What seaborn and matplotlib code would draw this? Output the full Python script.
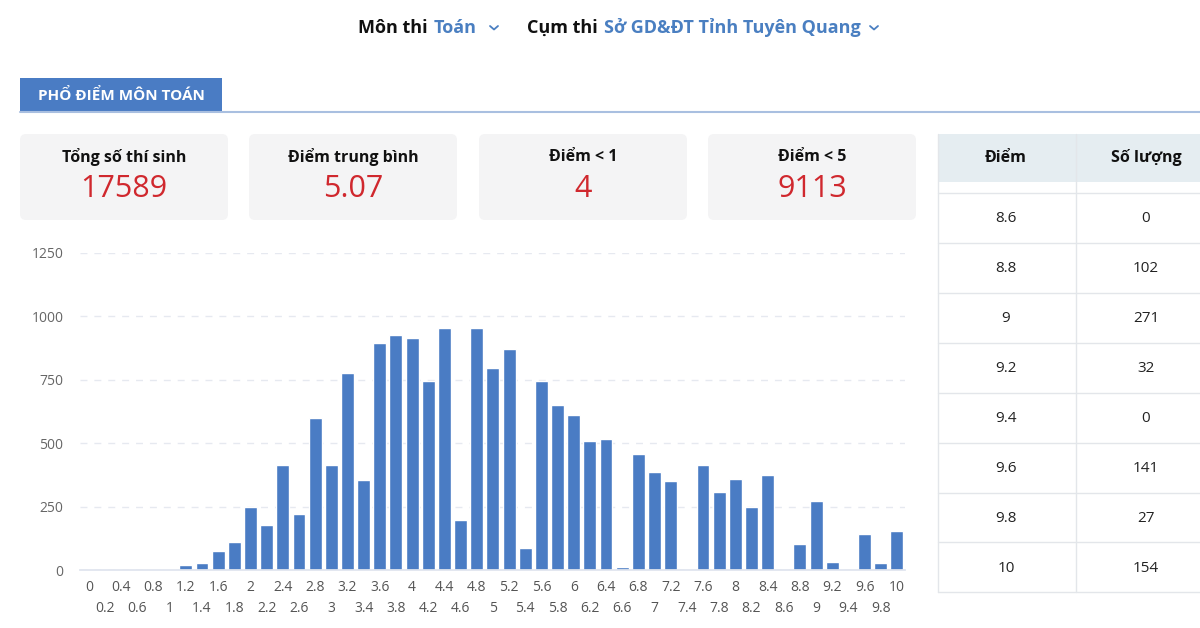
import matplotlib
matplotlib.use("Agg")
from matplotlib import pyplot as plt
from matplotlib.patches import FancyBboxPatch, Rectangle
import pandas as pd
import seaborn as sns

# Data
scores = ["0", "0.2", "0.4", "0.6", "0.8", "1", "1.2", "1.4", "1.6", "1.8",
          "2", "2.2", "2.4", "2.6", "2.8", "3", "3.2", "3.4", "3.6", "3.8",
          "4", "4.2", "4.4", "4.6", "4.8", "5", "5.2", "5.4", "5.6", "5.8",
          "6", "6.2", "6.4", "6.6", "6.8", "7", "7.2", "7.4", "7.6", "7.8",
          "8", "8.2", "8.4", "8.6", "8.8", "9", "9.2", "9.4", "9.6", "9.8", "10"]
counts = [0, 0, 1, 1, 2, 3, 20, 29, 75, 110,
          248, 178, 414, 220, 598, 414, 775, 354, 895, 925,
          916, 745, 955, 199, 955, 797, 870, 88, 745, 651,
          611, 509, 517, 10, 456, 388, 349, 0, 414, 307,
          358, 248, 376, 0, 102, 271, 32, 0, 141, 27, 154]
y_ticks = [0, 250, 500, 750, 1000, 1250]

card_labels = ["Tổng số thí sinh", "Điểm trung bình", "Điểm < 1", "Điểm < 5"]
card_values = ["17589", "5.07", "4", "9113"]

df = pd.DataFrame({"score": scores, "count": counts})

W, H = 1200, 628
BLUE = "#4a7cc4"
RED = "#d0282e"
GREY = "#555555"

sns.set_theme(style="white")
plt.rcParams['font.family'] = ['Open Sans', 'Noto Sans', 'DejaVu Sans']

fig = plt.figure(figsize=(12, 6.28), dpi=100)

# overlay in pixel coordinates for the page furniture
ov = fig.add_axes([0, 0, 1, 1])
ov.set_xlim(0, W)
ov.set_ylim(H, 0)
ov.axis("off")

# top selectors
ov.text(358, 28, "Môn thi", fontsize=13, fontweight="bold", color="#111111", va="center")
ov.text(434, 28, "Toán", fontsize=13, fontweight="bold", color="#4a7fc1", va="center")
ov.text(527, 28, "Cụm thi", fontsize=13, fontweight="bold", color="#111111", va="center")
ov.text(604, 28, "Sở GD&ĐT Tỉnh Tuyên Quang", fontsize=13, fontweight="bold",
        color="#4a7fc1", va="center")
for cx in [494, 874]:
    ov.plot([cx - 4, cx, cx + 4], [26, 29.5, 26], color="#4a7fc1", lw=1.3,
            solid_capstyle="round", solid_joinstyle="round")

# section tab
ov.add_patch(Rectangle((20, 78), 202, 33, color=BLUE, lw=0))
ov.text(121, 95, "PHỔ ĐIỂM MÔN TOÁN", fontsize=11, fontweight="bold", color="white",
        ha="center", va="center")
ov.plot([20, 1200], [111.5, 111.5], color="#a9bfe0", lw=1.5)

# stat cards
card_x = [20, 249, 479, 708]
for x0, lab, val in zip(card_x, card_labels, card_values):
    ov.add_patch(FancyBboxPatch((x0 + 4, 138), 200, 78,
                                boxstyle="round,pad=4,rounding_size=6",
                                fc="#f4f4f5", ec="none"))
    ov.text(x0 + 104, 157, lab, fontsize=11.5, fontweight="bold", color="#111111",
            ha="center", va="center")
    ov.text(x0 + 104, 189, val, fontsize=22, color=RED, ha="center", va="center")

# table on the right (last rows of the data)
ov.add_patch(Rectangle((938, 134), 262, 48, color="#e5edf1", lw=0))
ov.text(1006, 158, "Điểm", fontsize=11.5, fontweight="bold", color="#111111",
        ha="center", va="center")
ov.text(1146, 158, "Số lượng", fontsize=11.5, fontweight="bold", color="#111111",
        ha="center", va="center")
ov.plot([938, 938], [134, 592], color="#e3e6ea", lw=1)
ov.plot([1076, 1076], [134, 592], color="#e3e6ea", lw=1)
row_top = 193
ov.plot([938, 1200], [row_top, row_top], color="#e3e6ea", lw=1)
for i, (s, c) in enumerate(zip(scores[-8:], counts[-8:])):
    yc = row_top + 26 + i * 49.9
    ov.text(1006, yc, s, fontsize=11, color="#222222", ha="center", va="center")
    ov.text(1146, yc, str(c), fontsize=11, color="#222222", ha="center", va="center")
    ov.plot([938, 1200], [yc + 24, yc + 24], color="#e3e6ea", lw=1)

# bar chart
ax = fig.add_axes([80 / W, 1 - 570 / H, 825 / W, 317 / H])
ax.set_facecolor("none")
sns.barplot(data=df, x="score", y="count", order=scores, color=BLUE,
            width=0.8, saturation=1, ax=ax)
ax.set_xlim(-0.55, 50.5)
ax.set_ylim(0, 1250)
ax.set_yticks(y_ticks)
ax.set_yticklabels([str(v) for v in y_ticks], color="#666666", fontsize=10)
ax.yaxis.grid(True, linestyle=(0, (5, 5)), color="#e6e9f0", lw=1)
ax.set_axisbelow(True)
ax.set_xlabel("")
ax.set_ylabel("")
for sp in ["top", "right", "left"]:
    ax.spines[sp].set_visible(False)
ax.spines["bottom"].set_color("#dfe4ee")
ax.tick_params(axis="y", length=0, pad=12)
ax.tick_params(axis="x", length=0, labelsize=10, labelcolor=GREY)
ax.set_xticks(range(len(scores)))
ax.set_xticklabels(scores)
for i, tick in enumerate(ax.xaxis.get_major_ticks()):
    tick.set_pad(7 if i % 2 == 0 else 22)

fig.savefig("out.png", dpi=100)
